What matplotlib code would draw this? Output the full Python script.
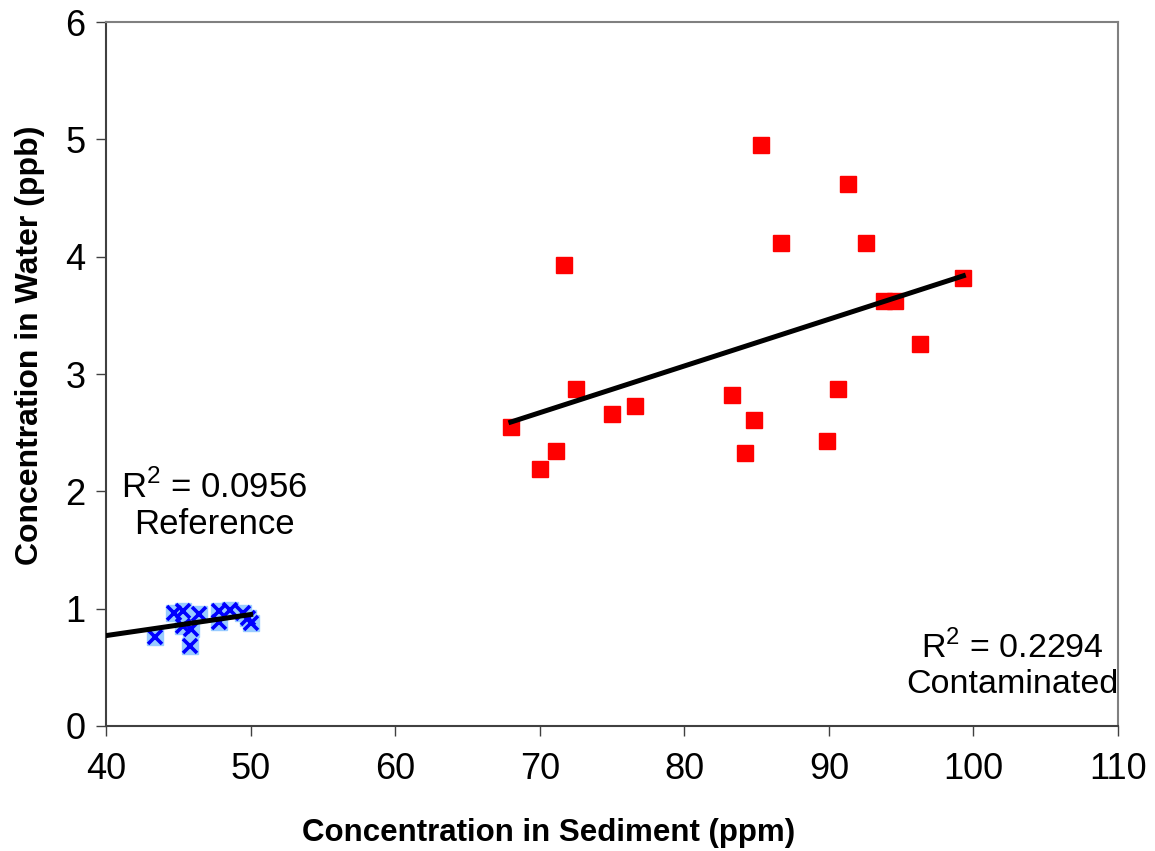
import numpy as np
import matplotlib
matplotlib.use('Agg')
import matplotlib.pyplot as plt

plt.rcParams['font.family'] = ['Liberation Sans', 'DejaVu Sans']
plt.rcParams['mathtext.fontset'] = 'custom'
plt.rcParams['mathtext.rm'] = 'Liberation Sans'

# reference site (blue crosses)
ref_sed = [43.4, 44.7, 45.3, 45.3, 45.8, 45.9, 46.4, 47.8, 47.8, 48.6, 49.5, 49.8, 50.0]
ref_water = [0.76, 0.96, 0.98, 0.85, 0.68, 0.83, 0.95, 0.98, 0.89, 0.99, 0.96, 0.92, 0.88]

# contaminated site (red squares)
con_sed = [85.3, 91.3, 86.7, 92.6, 71.7, 99.3, 93.8, 94.6, 96.3, 72.5,
           90.6, 83.3, 76.6, 75.0, 84.8, 68.0, 89.9, 71.1, 84.2, 70.0]
con_water = [4.95, 4.62, 4.12, 4.12, 3.93, 3.82, 3.62, 3.62, 3.26, 2.87,
             2.87, 2.82, 2.73, 2.66, 2.61, 2.55, 2.43, 2.34, 2.33, 2.19]

ref_label = 'R$^2$ = 0.0956\nReference'
con_label = 'R$^2$ = 0.2294\nContaminated'

x_lim = (40, 110)
y_lim = (0, 6)

fig = plt.figure(figsize=(11.55, 8.51), dpi=100)
ax = fig.add_axes([0.0918, 0.147, 0.8762, 0.827])

# markers
ax.plot(ref_sed, ref_water, linestyle='none', marker='s', ms=11,
        mfc='#99ccff', mec='#99ccff', zorder=2)
ax.plot(ref_sed, ref_water, linestyle='none', marker='x', ms=9.5,
        mew=2.6, color='#0000ff', zorder=3)
ax.plot(con_sed, con_water, linestyle='none', marker='s', ms=11,
        mfc='#ff0000', mec='#ff0000', zorder=3)

# linear trendlines
m, b = np.polyfit(ref_sed, ref_water, 1)
xs = np.array([x_lim[0], max(ref_sed)])
ax.plot(xs, m * xs + b, color='black', lw=3.6, zorder=4)

m, b = np.polyfit(con_sed, con_water, 1)
xs = np.array([min(con_sed), max(con_sed)])
ax.plot(xs, m * xs + b, color='black', lw=3.6, zorder=4)

ax.text(47.5, 1.88, ref_label, ha='center', va='center', fontsize=25,
        multialignment='center', linespacing=1.15)
ax.text(102.7, 0.52, con_label, ha='center', va='center', fontsize=24.5,
        multialignment='center', linespacing=1.15)

ax.set_xlim(*x_lim)
ax.set_ylim(*y_lim)
ax.set_xticks(range(40, 111, 10))
ax.set_yticks(range(0, 7))
ax.tick_params(labelsize=26, length=7, width=1, color='#404040', pad=8)
ax.tick_params(axis='x', pad=12)

for side in ['left', 'bottom']:
    ax.spines[side].set_color('#404040')
    ax.spines[side].set_linewidth(1.5)
for side in ['top', 'right']:
    ax.spines[side].set_color('#808080')
    ax.spines[side].set_linewidth(1.5)

ax.set_xlabel('Concentration in Sediment (ppm)', fontsize=22.5, fontweight='bold')
ax.set_ylabel('Concentration in Water (ppb)', fontsize=23, fontweight='bold')
ax.xaxis.set_label_coords(0.437, -0.131)
ax.yaxis.set_label_coords(-0.060, 0.541)

fig.savefig('out.png', dpi=100)
